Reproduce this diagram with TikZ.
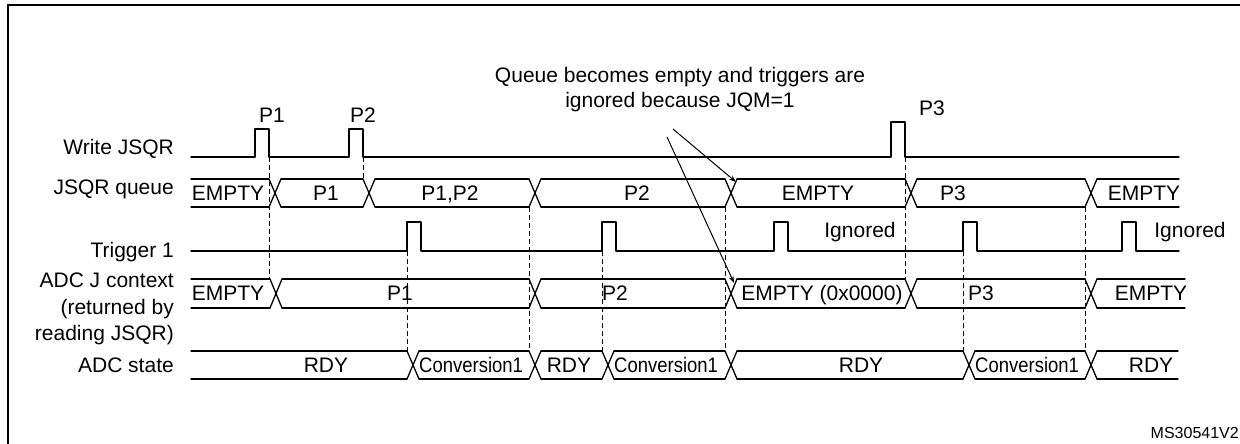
\documentclass[tikz,border=0pt]{standalone}
\usepackage{graphicx}
\usepackage{fontspec}
\setmainfont{Liberation Sans}
\usetikzlibrary{arrows.meta}
\begin{document}
\begin{tikzpicture}[x=1bp,y=-1bp,
  sig/.style={line width=1.3bp, line cap=round, line join=round},
  guide/.style={line width=1bp, dash pattern=on 5bp off 3bp},
  frame/.style={line width=2bp},
  txt/.style={inner sep=0pt, font=\fontsize{21bp}{25bp}\selectfont},
  conv/.style={inner sep=0pt, font=\fontsize{21bp}{25bp}\selectfont},
  note/.style={line width=1bp, -{Stealth[length=7bp,width=5bp]}}
]
\useasboundingbox (0,0) rectangle (1240,444);
\fill[white] (0,0) rectangle (1240,444);
% frame
\draw[frame] (8,446) -- (8,5) -- (1242,5);

% ---- row labels
\node[txt, anchor=base east] (lw) at (174,155) {Write JSQR};
\node[txt, anchor=base east] (lq) at (174,195) {JSQR queue};
\node[txt, anchor=base east] (lt) at (174,258) {Trigger 1};
\node[txt, anchor=base east] (lj1) at (174,288) {ADC J context};
\node[txt, anchor=base east] (lj2) at (174,315) {(returned by};
\node[txt, anchor=base east] (lj3) at (174,341) {reading JSQR)};
\node[txt, anchor=base east] (ls) at (174,373) {ADC state};

% ---- Write JSQR
\draw[sig] (191,157) -- (255,157) -- (255,129) -- (269,129) -- (269,157)
  -- (349,157) -- (349,129) -- (363,129) -- (363,157)
  -- (891,157) -- (891,122) -- (905,122) -- (905,157) -- (1179,157);
\node[txt, anchor=base west] (p1) at (259,123) {P1};
\node[txt, anchor=base west] (p2) at (350,123) {P2};
\node[txt, anchor=base west] (p3) at (919,116) {P3};

% ---- JSQR queue bus
\foreach \a/\b in {191/269, 281/363, 375/529, 541/725, 737/905, 917/1085, 1097/1179}
  {\draw[sig] (\a,179) -- (\b,179) (\a,207) -- (\b,207);}
\foreach \t in {269,363,529,725,905,1085}
  {\draw[sig] (\t,179) -- (\t+12,207) (\t,207) -- (\t+12,179);}
\node[txt, anchor=base] (q1) at (228,200.5) {EMPTY};
\node[txt, anchor=base] (q2) at (326,200.5) {P1};
\node[txt, anchor=base] (q3) at (450,200.5) {P1,P2};
\node[txt, anchor=base] (q4) at (637,200.5) {P2};
\node[txt, anchor=base] (q5) at (818,200.5) {EMPTY};
\node[txt, anchor=base] (q6) at (953,200.5) {P3};
\node[txt, anchor=base] (q7) at (1144,200.5) {EMPTY};

% ---- Trigger 1
\draw[sig] (191,251) -- (407,251) -- (407,222) -- (421,222) -- (421,251)
  -- (602,251) -- (602,222) -- (616,222) -- (616,251)
  -- (774,251) -- (774,222) -- (788,222) -- (788,251)
  -- (963,251) -- (963,222) -- (977,222) -- (977,251)
  -- (1122,251) -- (1122,222) -- (1136,222) -- (1136,251) -- (1179,251);
\node[txt, anchor=base] (ig1) at (860,238) {Ignored};
\node[txt, anchor=base] (ig2) at (1190,238) {Ignored};

% ---- ADC J context bus
\foreach \a/\b in {191/270, 282/529, 541/725, 737/905, 917/1085, 1097/1185}
  {\draw[sig] (\a,279) -- (\b,279) (\a,308) -- (\b,308);}
\foreach \t in {270,529,725,905,1085}
  {\draw[sig] (\t,279) -- (\t+12,308) (\t,308) -- (\t+12,279);}
\node[txt, anchor=base] (j1) at (228,301) {EMPTY};
\node[txt, anchor=base] (j2) at (400,301) {P1};
\node[txt, anchor=base] (j3) at (615,301) {P2};
\node[txt, anchor=base] (j4) at (822,301) {EMPTY (0x0000)};
\node[txt, anchor=base] (j5) at (981,301) {P3};
\node[txt, anchor=base] (j6) at (1151,301) {EMPTY};

% ---- ADC state bus
\foreach \a/\b in {191/407, 419/529, 541/602, 614/725, 737/963, 975/1085, 1097/1178}
  {\draw[sig] (\a,351) -- (\b,351) (\a,379) -- (\b,379);}
\foreach \t in {407,529,602,725,963,1085}
  {\draw[sig] (\t,351) -- (\t+12,379) (\t,379) -- (\t+12,351);}
\node[txt, anchor=base] (s1) at (326,372.5) {RDY};
\node[conv, anchor=base west] (s2) at (419,372.5) {\scalebox{0.88}[1]{Conversion1}};
\node[txt, anchor=base] (s3) at (569,372.5) {RDY};
\node[conv, anchor=base west] (s4) at (614,372.5) {\scalebox{0.88}[1]{Conversion1}};
\node[txt, anchor=base] (s5) at (861,372.5) {RDY};
\node[conv, anchor=base west] (s6) at (975,372.5) {\scalebox{0.88}[1]{Conversion1}};
\node[txt, anchor=base] (s7) at (1151,372.5) {RDY};

% ---- dashed guides
\draw[guide] (269,157) -- (269,279);
\draw[guide] (363,157) -- (363,179);
\draw[guide] (529,207) -- (529,351);
\draw[guide] (407,251) -- (407,351);
\draw[guide] (602,251) -- (602,351);
\draw[guide] (725,207) -- (725,351);
\draw[guide] (905,157) -- (905,279);
\draw[guide] (963,251) -- (963,351);
\draw[guide] (1085,207) -- (1085,351);

% ---- annotation
\node[txt, anchor=base] (n1) at (680,82.5) {Queue becomes empty and triggers are};
\node[txt, anchor=base] (n2) at (680,107.5) {ignored because JQM=1};
\coordinate (a1s) at (673,129);
\coordinate (a1e) at (736,182);
\coordinate (a2s) at (667,137);
\coordinate (a2e) at (734,283);
\draw[note] (a1s) -- (a1e);
\draw[note] (a2s) -- (a2e);

\node[inner sep=0pt, anchor=base east, font=\fontsize{16bp}{19bp}\selectfont] (ms) at (1239,439) {MS30541V2};
\end{tikzpicture}
\end{document}
